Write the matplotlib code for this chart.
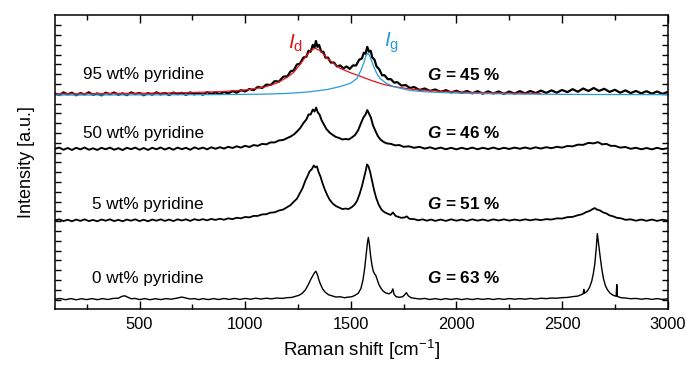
import numpy as np
import matplotlib
matplotlib.use("Agg")
import matplotlib.pyplot as plt

plt.rcParams['font.family'] = ['Liberation Sans', 'DejaVu Sans']
plt.rcParams['mathtext.fontset'] = 'custom'
plt.rcParams['mathtext.rm'] = 'Liberation Sans'
plt.rcParams['mathtext.it'] = 'Liberation Sans:italic'
plt.rcParams['mathtext.bf'] = 'Liberation Sans:bold'
try:
    plt.rcParams['mathtext.bfit'] = 'Liberation Sans:italic:bold'
except KeyError:
    pass

# Raman spectra (shift in cm^-1, intensity above each trace's own baseline, a.u.)
spec_95 = [
    (100, 0.05), (120, -0.12), (140, 0.15), (160, -0.05), (180, 0.12), (200, -0.14), (220, 0.08), (240, -0.06),
    (260, 0.16), (280, -0.1), (300, 0.05), (320, -0.15), (340, 0.12), (360, -0.04), (380, 0.14), (400, -0.1),
    (420, 0.06), (440, -0.13), (460, 0.15), (480, -0.02), (500, 0.1), (520, -0.14), (540, 0.08), (560, -0.08),
    (580, 0.16), (600, -0.06), (620, 0.1), (640, -0.12), (660, 0.14), (680, -0.03), (700, 0.12), (720, -0.1),
    (740, 0.16), (760, -0.05), (780, 0.1), (800, -0.08), (820, 0.18), (840, 0.0), (860, 0.15), (880, -0.02),
    (900, 0.2), (920, 0.05), (940, 0.28), (960, 0.12), (980, 0.38), (1000, 0.25), (1020, 0.5), (1040, 0.38),
    (1060, 0.72), (1080, 0.6), (1100, 0.95), (1120, 0.9), (1140, 1.3), (1160, 1.25), (1180, 1.75), (1200, 1.8),
    (1215, 2.3), (1230, 2.4), (1245, 3.0), (1260, 3.1), (1275, 3.7), (1290, 3.8), (1300, 4.4), (1310, 4.3),
    (1320, 5.0), (1328, 4.7), (1335, 5.4), (1342, 4.8), (1350, 5.0), (1360, 4.3), (1370, 4.3), (1380, 3.7),
    (1392, 3.7), (1405, 3.2), (1420, 3.2), (1435, 2.8), (1450, 2.9), (1465, 2.6), (1480, 2.8), (1495, 2.55),
    (1510, 2.9), (1525, 2.9), (1540, 3.5), (1552, 3.6), (1562, 4.2), (1570, 4.1), (1578, 4.8), (1586, 4.3),
    (1594, 4.4), (1602, 3.7), (1612, 3.5), (1622, 2.8), (1635, 2.5), (1648, 1.9), (1660, 1.9), (1675, 1.5),
    (1690, 1.5), (1705, 1.15), (1720, 1.2), (1740, 0.85), (1760, 0.9), (1780, 0.6), (1800, 0.7), (1825, 0.4),
    (1850, 0.55), (1875, 0.3), (1900, 0.45), (1925, 0.2), (1950, 0.38), (1975, 0.15), (2000, 0.32), (2025, 0.1),
    (2050, 0.3), (2075, 0.05), (2100, 0.28), (2125, 0.02), (2150, 0.26), (2175, 0.04), (2200, 0.25), (2225, 0.0),
    (2250, 0.24), (2275, 0.03), (2300, 0.28), (2325, 0.05), (2350, 0.3), (2375, 0.08), (2400, 0.34), (2425, 0.1),
    (2450, 0.36), (2475, 0.12), (2500, 0.4), (2525, 0.18), (2550, 0.48), (2575, 0.22), (2600, 0.55), (2625, 0.3),
    (2650, 0.6), (2675, 0.3), (2700, 0.52), (2725, 0.2), (2750, 0.42), (2775, 0.12), (2800, 0.36), (2825, 0.08),
    (2850, 0.3), (2875, 0.05), (2900, 0.28), (2925, 0.02), (2950, 0.25), (2975, 0.0), (3000, 0.2),
]

spec_50 = [
    (100, 0.0), (120, 0.12), (140, -0.1), (160, 0.08), (180, -0.12), (200, 0.1), (220, -0.06), (240, 0.13),
    (260, -0.1), (280, 0.05), (300, -0.12), (320, 0.1), (340, -0.05), (360, 0.12), (380, -0.1), (400, 0.06),
    (420, -0.13), (440, 0.1), (460, -0.04), (480, 0.12), (500, -0.1), (520, 0.08), (540, -0.12), (560, 0.1),
    (580, -0.05), (600, 0.13), (620, -0.08), (640, 0.1), (660, -0.1), (680, 0.12), (700, -0.04), (720, 0.1),
    (740, -0.1), (760, 0.14), (780, -0.02), (800, 0.12), (820, -0.06), (840, 0.15), (860, 0.0), (880, 0.16),
    (900, 0.02), (920, 0.2), (940, 0.08), (960, 0.25), (980, 0.12), (1000, 0.3), (1020, 0.18), (1040, 0.38),
    (1060, 0.3), (1080, 0.5), (1100, 0.45), (1120, 0.65), (1140, 0.65), (1160, 0.85), (1180, 0.9), (1200, 1.1),
    (1215, 1.25), (1230, 1.45), (1245, 1.75), (1260, 2.1), (1275, 2.6), (1290, 3.0), (1300, 3.5), (1310, 3.5),
    (1320, 4.0), (1328, 3.8), (1336, 4.2), (1344, 3.7), (1352, 3.5), (1362, 2.9), (1372, 2.5), (1385, 2.0),
    (1400, 1.65), (1415, 1.4), (1430, 1.2), (1445, 1.1), (1460, 0.95), (1475, 1.0), (1490, 0.95), (1505, 1.15),
    (1520, 1.4), (1535, 1.9), (1548, 2.6), (1560, 3.2), (1570, 3.5), (1578, 3.95), (1586, 3.6), (1595, 3.2),
    (1605, 2.4), (1615, 1.9), (1628, 1.3), (1640, 0.95), (1655, 0.7), (1670, 0.55), (1690, 0.5), (1710, 0.35),
    (1730, 0.38), (1750, 0.2), (1775, 0.25), (1800, 0.1), (1825, 0.2), (1850, 0.02), (1875, 0.15), (1900, -0.02),
    (1925, 0.12), (1950, -0.05), (1975, 0.1), (2000, -0.06), (2025, 0.1), (2050, -0.04), (2075, 0.12), (2100, -0.05),
    (2125, 0.1), (2150, -0.03), (2175, 0.12), (2200, -0.04), (2225, 0.1), (2250, -0.02), (2275, 0.12), (2300, 0.0),
    (2325, 0.13), (2350, 0.0), (2375, 0.15), (2400, 0.02), (2425, 0.16), (2450, 0.06), (2475, 0.2), (2500, 0.12),
    (2525, 0.28), (2550, 0.25), (2575, 0.42), (2600, 0.4), (2625, 0.6), (2650, 0.55), (2670, 0.68), (2690, 0.45),
    (2710, 0.5), (2730, 0.3), (2750, 0.3), (2775, 0.12), (2800, 0.18), (2825, 0.0), (2850, 0.1), (2875, -0.05),
    (2900, 0.08), (2925, -0.06), (2950, 0.1), (2975, -0.04), (3000, 0.06),
]

spec_5 = [
    (100, 0.0), (120, 0.1), (140, -0.08), (160, 0.06), (180, -0.1), (200, 0.08), (220, -0.06), (240, 0.1),
    (260, -0.08), (280, 0.04), (300, -0.1), (320, 0.08), (340, -0.04), (360, 0.1), (380, -0.08), (400, 0.05),
    (420, -0.1), (440, 0.08), (460, -0.04), (480, 0.1), (500, -0.08), (520, 0.06), (540, -0.1), (560, 0.08),
    (580, -0.04), (600, 0.1), (620, -0.06), (640, 0.08), (660, -0.08), (680, 0.1), (700, -0.02), (720, 0.1),
    (740, -0.06), (760, 0.12), (780, 0.0), (800, 0.12), (820, 0.0), (840, 0.14), (860, 0.04), (880, 0.16),
    (900, 0.06), (920, 0.2), (940, 0.12), (960, 0.26), (980, 0.2), (1000, 0.34), (1020, 0.3), (1040, 0.45),
    (1060, 0.45), (1080, 0.6), (1100, 0.62), (1120, 0.78), (1140, 0.82), (1160, 1.0), (1180, 1.1), (1200, 1.35),
    (1215, 1.55), (1230, 1.9), (1245, 2.2), (1260, 2.8), (1272, 3.3), (1284, 4.0), (1295, 4.5), (1305, 5.0),
    (1315, 5.2), (1325, 5.6), (1333, 5.4), (1340, 5.5), (1348, 4.9), (1356, 4.5), (1366, 3.8), (1376, 3.2),
    (1388, 2.6), (1400, 2.1), (1415, 1.7), (1430, 1.45), (1445, 1.3), (1460, 1.15), (1475, 1.2), (1490, 1.15),
    (1505, 1.35), (1518, 1.6), (1530, 2.0), (1542, 2.7), (1553, 3.5), (1562, 4.3), (1570, 5.0), (1577, 5.7),
    (1584, 5.5), (1592, 4.9), (1600, 4.1), (1610, 3.1), (1620, 2.3), (1632, 1.6), (1645, 1.1), (1658, 0.85),
    (1672, 0.7), (1688, 0.55), (1700, 0.8), (1712, 0.45), (1725, 0.35), (1740, 0.25), (1755, 0.3), (1765, 0.4),
    (1778, 0.15), (1800, 0.12), (1820, 0.0), (1840, 0.1), (1860, -0.04), (1880, 0.08), (1900, -0.06), (1925, 0.08),
    (1950, -0.06), (1975, 0.1), (2000, -0.04), (2025, 0.08), (2050, -0.06), (2075, 0.1), (2100, -0.03), (2125, 0.08),
    (2150, -0.05), (2175, 0.1), (2200, -0.02), (2225, 0.1), (2250, -0.03), (2275, 0.08), (2300, -0.02), (2325, 0.1),
    (2350, 0.0), (2375, 0.1), (2400, 0.02), (2425, 0.12), (2450, 0.08), (2475, 0.2), (2500, 0.18), (2525, 0.32),
    (2550, 0.35), (2575, 0.52), (2595, 0.62), (2615, 0.85), (2630, 0.95), (2645, 1.15), (2655, 1.25), (2665, 1.1),
    (2680, 1.0), (2695, 0.8), (2710, 0.7), (2725, 0.5), (2740, 0.42), (2760, 0.25), (2780, 0.2), (2800, 0.05),
    (2825, 0.1), (2850, -0.04), (2875, 0.08), (2900, -0.05), (2925, 0.08), (2950, -0.06), (2975, 0.06), (3000, -0.02),
]

spec_0 = [
    (100, 0.0), (125, 0.07), (150, -0.05), (175, 0.06), (200, -0.06), (225, 0.05), (250, -0.04), (275, 0.06),
    (300, -0.05), (325, 0.06), (350, -0.03), (375, 0.08), (400, 0.1), (415, 0.28), (430, 0.35), (445, 0.2),
    (460, 0.05), (480, 0.08), (500, -0.04), (525, 0.06), (550, -0.05), (575, 0.05), (600, -0.04), (625, 0.06),
    (650, 0.0), (675, 0.1), (700, 0.22), (720, 0.12), (740, 0.02), (760, 0.06), (780, -0.04), (800, 0.06),
    (825, -0.04), (850, 0.06), (875, -0.03), (900, 0.07), (925, -0.02), (950, 0.08), (975, -0.02), (1000, 0.08),
    (1025, 0.0), (1050, 0.1), (1075, 0.02), (1100, 0.1), (1125, 0.04), (1150, 0.12), (1175, 0.08), (1200, 0.16),
    (1220, 0.18), (1240, 0.3), (1255, 0.4), (1270, 0.6), (1285, 0.95), (1298, 1.45), (1310, 2.0), (1320, 2.4),
    (1328, 2.7), (1335, 2.85), (1342, 2.5), (1350, 1.9), (1358, 1.45), (1368, 1.0), (1380, 0.7), (1395, 0.45),
    (1410, 0.35), (1430, 0.22), (1450, 0.25), (1470, 0.15), (1490, 0.22), (1505, 0.25), (1520, 0.4), (1535, 0.6),
    (1548, 1.1), (1558, 2.0), (1566, 3.2), (1573, 4.6), (1579, 5.8), (1583, 6.3), (1588, 5.6), (1594, 4.4),
    (1600, 3.5), (1606, 2.9), (1612, 2.6), (1618, 2.45), (1625, 2.0), (1633, 1.5), (1642, 1.15), (1652, 0.85),
    (1665, 0.65), (1680, 0.55), (1692, 0.7), (1699, 1.05), (1705, 0.5), (1715, 0.25), (1730, 0.2), (1745, 0.25),
    (1755, 0.45), (1763, 0.67), (1772, 0.35), (1785, 0.15), (1800, 0.1), (1825, 0.02), (1850, 0.08), (1875, -0.03),
    (1900, 0.06), (1925, -0.04), (1950, 0.06), (1975, -0.03), (2000, 0.06), (2025, -0.04), (2050, 0.05), (2075, -0.03),
    (2100, 0.06), (2125, -0.02), (2150, 0.06), (2175, -0.03), (2200, 0.06), (2225, -0.02), (2250, 0.07), (2275, 0.0),
    (2300, 0.06), (2325, 0.0), (2350, 0.08), (2375, 0.02), (2400, 0.1), (2425, 0.06), (2450, 0.12), (2475, 0.1),
    (2500, 0.16), (2525, 0.18), (2550, 0.26), (2575, 0.32), (2590, 0.45), (2600, 0.55), (2603, 1.0), (2606, 0.6),
    (2620, 0.85), (2630, 1.2), (2640, 1.8), (2648, 2.6), (2655, 3.6), (2661, 5.0), (2667, 6.7), (2673, 5.6),
    (2680, 4.4), (2688, 3.1), (2696, 2.1), (2705, 1.4), (2715, 0.95), (2728, 0.6), (2742, 0.4), (2756, 0.3),
    (2759, 1.5), (2762, 0.28), (2780, 0.15), (2800, 0.12), (2825, 0.05), (2850, 0.08), (2875, 0.0), (2900, 0.07),
    (2925, -0.02), (2950, 0.06), (2975, -0.02), (3000, 0.04),
]

# peak fits of the 95 wt% spectrum (same baseline as spec_95)
fit_d = [
    (100, 0.0), (300, 0.03), (500, 0.06), (700, 0.12), (800, 0.17), (900, 0.25), (1000, 0.4), (1050, 0.55),
    (1100, 0.75), (1150, 1.1), (1200, 1.7), (1230, 2.2), (1260, 3.0), (1290, 3.9), (1310, 4.4), (1332, 4.66),
    (1355, 4.4), (1375, 3.95), (1390, 3.6), (1420, 3.1), (1450, 2.6), (1500, 2.15), (1545, 1.8), (1600, 1.35),
    (1650, 1.0), (1700, 0.75), (1800, 0.45), (1900, 0.3), (2000, 0.2), (2100, 0.14), (2200, 0.1), (2300, 0.07),
    (2400, 0.05),
]
fit_g = [
    (100, -0.12), (500, -0.1), (800, -0.08), (1000, -0.05), (1100, -0.02), (1200, 0.05), (1300, 0.2), (1389, 0.45),
    (1450, 0.75), (1500, 1.1), (1530, 1.6), (1550, 2.5), (1562, 3.2), (1572, 3.9), (1580, 4.15), (1588, 3.95),
    (1598, 3.4), (1610, 2.7), (1625, 2.0), (1640, 1.55), (1670, 1.05), (1702, 0.75), (1750, 0.5), (1782, 0.35),
    (1850, 0.22), (1950, 0.12), (2100, 0.04), (2300, -0.02), (2600, -0.06), (3000, -0.08),
]

spectra = [spec_95, spec_50, spec_5, spec_0]
labels = ['95 wt% pyridine', '50 wt% pyridine', '5 wt% pyridine', '0 wt% pyridine']
g_values = [45, 46, 51, 63]
offsets = [21.0, 15.4, 8.1, 0.05]
label_y = [1.93, 1.6, 1.66, 2.16]
line_widths = [1.6, 1.4, 1.3, 1.0]

red = '#e8141b'
blue = '#2a9ad8'

fig = plt.figure(figsize=(6.86, 3.65), dpi=100)
ax = fig.add_axes([0.0802, 0.1534, 0.8931, 0.8055])

for spec, off, lw in zip(spectra, offsets, line_widths):
    x, y = np.array(spec).T
    ax.plot(x, y + off, color='black', lw=lw)

xd, yd = np.array(fit_d).T
xg, yg = np.array(fit_g).T
ax.plot(xd, yd + offsets[0], color=red, lw=0.9)
ax.plot(xg, yg + offsets[0], color=blue, lw=0.9)

for lab, g, off, ly in zip(labels, g_values, offsets, label_y):
    ax.text(805, off + ly, lab, ha='right', va='center', fontsize=12.3)
    ax.text(1862, off + ly, r'$\mathbfit{G}$' + f' = {g} %', ha='left', va='center',
            fontsize=12.3, fontweight='bold')

ax.text(1205, 26.2, r'$I_\mathrm{d}$', color=red, fontsize=15, ha='left', va='center')
ax.text(1655, 26.2, r'$I_\mathrm{g}$', color=blue, fontsize=15, ha='left', va='center')

ax.set_xlim(100, 3000)
ax.set_ylim(-0.95, 29.05)
ax.set_xticks([500, 1000, 1500, 2000, 2500, 3000])
ax.set_xticks(np.arange(250, 3000, 500), minor=True)
ax.set_yticks(np.arange(0, 29, 1))
ax.set_yticklabels([])
ax.tick_params(axis='x', which='major', direction='in', length=5.5, width=1, top=True, labelsize=11.8, pad=6)
ax.tick_params(axis='x', which='minor', direction='in', length=3.5, width=1, top=True)
ax.tick_params(axis='y', direction='in', length=4.5, width=1, right=True)
for s in ax.spines.values():
    s.set_linewidth(1.1)

ax.set_xlabel(r'Raman shift [cm$^{-1}$]', fontsize=13.5, labelpad=4)
ax.set_ylabel('Intensity [a.u.]', fontsize=13, labelpad=11)

fig.savefig('out.png', dpi=100)
